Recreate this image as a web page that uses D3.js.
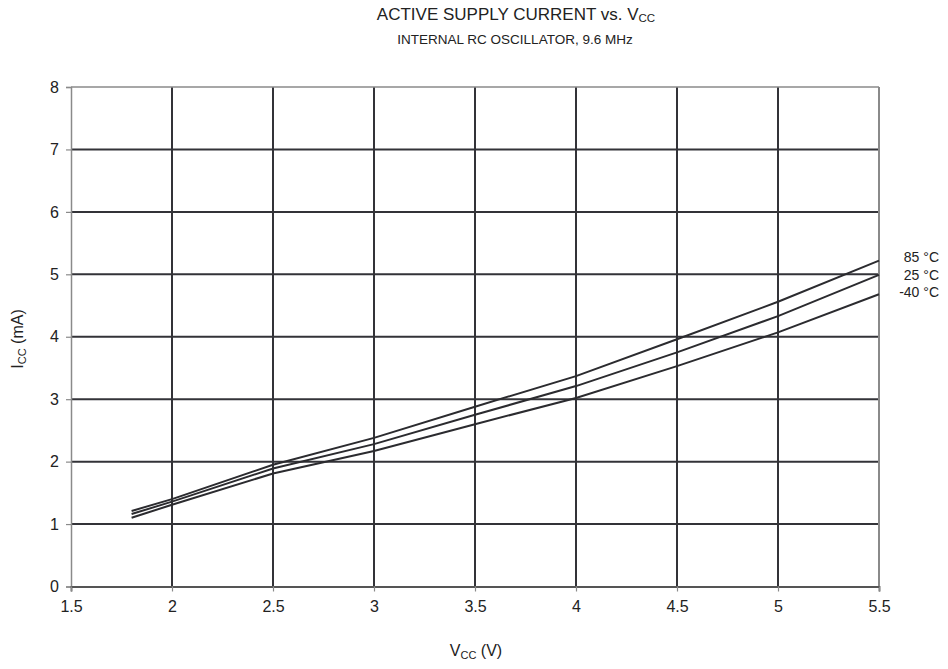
<!DOCTYPE html>
<html><head><meta charset="utf-8">
<script src="https://cdn.jsdelivr.net/npm/d3@7"></script>
<style>body{margin:0;background:#fff}svg{display:block}text{font-family:"Liberation Sans",Arial,sans-serif;fill:#222}</style>
</head><body><svg id="c" width="948" height="669"></svg>
<script>
const vcc = [1.8, 2.0, 2.5, 3.0, 3.5, 4.0, 4.5, 5.0, 5.5];
const icc85 = [1.21, 1.40, 1.95, 2.38, 2.88, 3.37, 3.96, 4.56, 5.22];
const icc25 = [1.16, 1.36, 1.89, 2.28, 2.75, 3.21, 3.75, 4.33, 4.99];
const iccM40 = [1.10, 1.31, 1.81, 2.17, 2.60, 3.02, 3.53, 4.07, 4.68];
const seriesNames = ["85 °C", "25 °C", "-40 °C"];
const xTicks = [1.5, 2, 2.5, 3, 3.5, 4, 4.5, 5, 5.5];
const yTicks = [0, 1, 2, 3, 4, 5, 6, 7, 8];

const series = [icc85, icc25, iccM40];
const svg = d3.select("#c");
const L = 71, R = 879, T = 87, B = 586.5;
const x = d3.scaleLinear().domain([1.5, 5.5]).range([L, R]);
const y = d3.scaleLinear().domain([0, 8]).range([B, T]);
const grid = "#333338", frame = "#8a8a8a";

// gridlines
svg.append("g").selectAll("line").data(xTicks.slice(1, -1)).join("line")
  .attr("x1", d => x(d)).attr("x2", d => x(d)).attr("y1", T).attr("y2", B)
  .attr("stroke", grid).attr("stroke-width", 2);
svg.append("g").selectAll("line").data(yTicks.slice(1, -1)).join("line")
  .attr("x1", L).attr("x2", R).attr("y1", d => y(d)).attr("y2", d => y(d))
  .attr("stroke", grid).attr("stroke-width", 2);
// frame top/right
svg.append("line").attr("x1", L).attr("x2", R).attr("y1", T).attr("y2", T).attr("stroke", frame).attr("stroke-width", 1.5);
svg.append("line").attr("x1", R).attr("x2", R).attr("y1", T).attr("y2", B).attr("stroke", frame).attr("stroke-width", 2);

// axes
const yAxis = d3.axisLeft(y).tickValues(yTicks).tickSize(5).tickPadding(7).tickFormat(d3.format("d"));
const gy = svg.append("g").attr("transform", `translate(${L},0)`).call(yAxis);
gy.select(".domain").attr("stroke", frame).attr("stroke-width", 1.5);
gy.selectAll(".tick line").attr("stroke", frame).attr("stroke-width", 1.2);
gy.selectAll("text").attr("font-size", 16).attr("fill", "#222").attr("font-family", "Liberation Sans, Arial, sans-serif");

const xAxis = d3.axisBottom(x).tickValues(xTicks).tickSize(5).tickPadding(9).tickFormat(d => String(d));
const gx = svg.append("g").attr("transform", `translate(0,${B})`).call(xAxis);
gx.select(".domain").attr("stroke", "#555").attr("stroke-width", 1.8);
gx.selectAll(".tick line").attr("stroke", frame).attr("stroke-width", 1.2);
gx.selectAll("text").attr("font-size", 16).attr("fill", "#222").attr("font-family", "Liberation Sans, Arial, sans-serif");

// data lines
const line = d3.line().x((d, i) => x(vcc[i])).y(d => y(d));
svg.append("g").selectAll("path").data(series).join("path")
  .attr("d", d => line(d)).attr("fill", "none")
  .attr("stroke", "#2b2b2f").attr("stroke-width", 2);

// series labels
svg.append("g").selectAll("text").data(seriesNames).join("text")
  .attr("x", 939).attr("y", (d, i) => 262 + i * 17.5)
  .attr("text-anchor", "end").attr("font-size", 14).text(d => d);

// titles
const t = svg.append("text").attr("x", 516).attr("y", 20).attr("text-anchor", "middle").attr("font-size", 17);
t.append("tspan").text("ACTIVE SUPPLY CURRENT vs. V");
t.append("tspan").attr("font-size", 11.5).attr("dy", 2).text("CC");
svg.append("text").attr("x", 515).attr("y", 44).attr("text-anchor", "middle").attr("font-size", 13.5)
  .text("INTERNAL RC OSCILLATOR, 9.6 MHz");

// axis titles
const xl = svg.append("text").attr("x", 476).attr("y", 656).attr("text-anchor", "middle").attr("font-size", 16);
xl.append("tspan").text("V");
xl.append("tspan").attr("font-size", 11).attr("dy", 3).text("CC");
xl.append("tspan").attr("dy", -3).text(" (V)");
const yl = svg.append("text").attr("transform", "translate(23,339) rotate(-90)").attr("text-anchor", "middle").attr("font-size", 16);
yl.append("tspan").text("I");
yl.append("tspan").attr("font-size", 11).attr("dy", 3).text("CC");
yl.append("tspan").attr("dy", -3).text(" (mA)");
</script></body></html>
